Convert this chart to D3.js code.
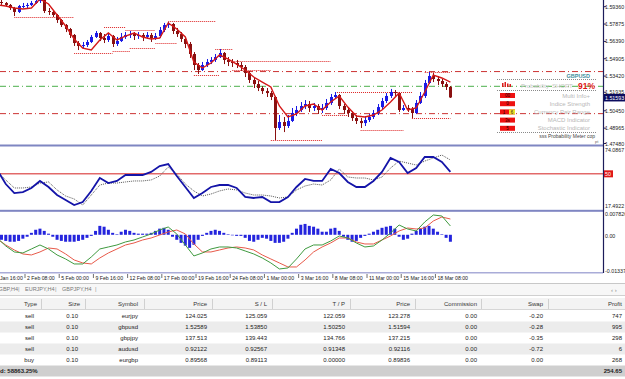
<!DOCTYPE html>
<html><head><meta charset="utf-8">
<script src="https://cdn.jsdelivr.net/npm/d3@7"></script>
<style>
body{margin:0;background:#fff;}
svg{display:block;font-family:"Liberation Sans",Arial,sans-serif;}
</style></head>
<body><svg id="c" width="625" height="379"></svg>
<script>
// ---------------- DATA ----------------
const firstOpen = 1.5976;
const closes = [1.5968,1.5951,1.5925,1.5891,1.5942,1.5942,1.5951,1.5968,1.5985,1.5993,
 1.5899,1.5891,1.5865,1.5822,1.5779,1.5745,1.5694,1.5625,1.5600,1.5608,
 1.5634,1.5677,1.5711,1.5668,1.5651,1.5685,1.5617,1.5642,1.5677,1.5694,
 1.5702,1.5685,1.5694,1.5677,1.5694,1.5668,1.5685,1.5737,1.5779,1.5788,
 1.5728,1.5702,1.5660,1.5617,1.5531,1.5437,1.5394,1.5437,1.5463,1.5480,
 1.5505,1.5540,1.5480,1.5463,1.5454,1.5437,1.5420,1.5368,1.5309,1.5274,
 1.5240,1.5214,1.5197,1.5163,1.4898,1.4949,1.4915,1.4958,1.5026,1.5052,
 1.5086,1.5103,1.5069,1.5086,1.5052,1.5069,1.5112,1.5163,1.5180,1.5086,
 1.5052,1.5026,1.4983,1.4958,1.4940,1.4966,1.4992,1.5026,1.5077,1.5129,
 1.5172,1.5206,1.5197,1.5052,1.5069,1.5060,1.5026,1.5112,1.5172,1.5283,
 1.5343,1.5317,1.5300,1.5274,1.5249,1.5159];
const highs = [1.5993,1.5976,1.5959,1.5934,1.5951,1.5968,1.5968,1.5985,1.6002,1.6019,
 1.6002,1.5925,1.5908,1.5874,1.5831,1.5788,1.5754,1.5702,1.5642,1.5634,
 1.5651,1.5694,1.5728,1.5719,1.5702,1.5711,1.5694,1.5677,1.5711,1.5719,
 1.5728,1.5719,1.5719,1.5711,1.5719,1.5711,1.5711,1.5762,1.5797,1.5805,
 1.5797,1.5754,1.5719,1.5677,1.5634,1.5548,1.5454,1.5463,1.5488,1.5505,
 1.5531,1.5574,1.5548,1.5505,1.5488,1.5480,1.5463,1.5437,1.5386,1.5326,
 1.5300,1.5257,1.5240,1.5214,1.5172,1.5009,1.4992,1.5009,1.5069,1.5086,
 1.5120,1.5137,1.5129,1.5112,1.5103,1.5103,1.5146,1.5189,1.5206,1.5189,
 1.5103,1.5069,1.5043,1.5009,1.4983,1.5000,1.5018,1.5052,1.5103,1.5155,
 1.5197,1.5232,1.5223,1.5206,1.5095,1.5095,1.5077,1.5137,1.5206,1.5309,
 1.5377,1.5368,1.5343,1.5317,1.5291,1.5257];
const lows = [1.5951,1.5934,1.5908,1.5856,1.5882,1.5925,1.5925,1.5942,1.5959,1.5968,
 1.5882,1.5865,1.5848,1.5797,1.5762,1.5719,1.5668,1.5600,1.5565,1.5574,
 1.5591,1.5625,1.5668,1.5642,1.5625,1.5634,1.5591,1.5600,1.5634,1.5660,
 1.5668,1.5651,1.5660,1.5642,1.5660,1.5634,1.5651,1.5668,1.5719,1.5754,
 1.5702,1.5677,1.5634,1.5582,1.5497,1.5394,1.5360,1.5386,1.5420,1.5445,
 1.5463,1.5497,1.5445,1.5428,1.5420,1.5411,1.5386,1.5334,1.5283,1.5240,
 1.5214,1.5189,1.5163,1.5137,1.4795,1.4881,1.4863,1.4898,1.4949,1.5000,
 1.5035,1.5060,1.5035,1.5043,1.5018,1.5026,1.5052,1.5095,1.5146,1.5060,
 1.5018,1.4992,1.4958,1.4932,1.4898,1.4915,1.4949,1.4975,1.5009,1.5060,
 1.5112,1.5155,1.5172,1.5035,1.5043,1.5035,1.4983,1.5018,1.5103,1.5155,
 1.5274,1.5291,1.5266,1.5249,1.5223,1.5155];
// smoothed trend line, one point every other bar (bar -1,1,3,...,105)
const trendLine = [1.5951,1.5942,1.5925,1.5916,1.5925,1.6002,1.5959,1.5865,1.5771,1.5660,
 1.5582,1.5565,1.5651,1.5711,1.5651,1.5685,1.5711,1.5677,1.5660,1.5668,
 1.5797,1.5745,1.5677,1.5463,1.5411,1.5454,1.5523,1.5488,1.5445,1.5394,
 1.5334,1.5291,1.5249,1.5086,1.4992,1.5018,1.5086,1.5103,1.5052,1.5120,
 1.5172,1.5077,1.5000,1.4992,1.5009,1.5052,1.5120,1.5197,1.5052,1.5069,
 1.5206,1.5351,1.5326,1.5291];
const stochMain = [53.9,39.7,30.6,31.6,35.7,42.8,36.7,28.6,23.6,18.5,
 21.5,32.7,45.8,40.7,42.8,48.8,48.8,48.8,51.9,57.9,
 59.9,47.8,36.7,25.6,30.6,36.7,38.7,38.7,35.7,26.6,
 25.6,26.6,21.5,21.5,26.6,36.7,44.8,42.8,42.8,54.9,
 50.8,41.8,36.7,36.7,42.8,51.9,66.0,62.0,50.8,55.9,
 67.0,67.0,62.0,51.9];
const stochSignal = [51.9,43.8,35.7,35.7,36.7,40.7,41.8,33.7,27.6,24.6,
 18.5,28.6,38.7,40.7,40.7,41.8,42.8,42.8,43.8,47.8,
 56.9,49.8,39.7,32.7,27.6,29.6,32.7,34.7,33.7,30.6,
 28.6,28.6,27.6,25.6,26.6,33.7,37.7,39.7,38.7,43.8,
 54.9,46.8,45.8,45.8,43.8,46.8,55.9,62.9,60.9,58.9,
 62.9,66.0,69.0,64.0];
const macdHist = [-0.0018,-0.0022,-0.0025,-0.0025,-0.0022,-0.0014,-0.0007,0.0007,0.0018,0.0022,
 0.0014,0.0004,-0.0007,-0.0018,-0.0022,-0.0025,-0.0025,-0.0025,-0.0022,-0.0018,
 -0.0011,-0.0004,0.0014,0.0032,0.0029,0.0018,0.0007,0.0002,0.0011,0.0018,
 0.0014,0.0007,0.0004,0.0004,0.0004,0.0007,0.0014,0.0022,0.0025,0.0018,
 -0.0007,-0.0018,-0.0029,-0.0039,-0.0047,-0.0036,-0.0018,-0.0004,0.0007,0.0014,
 0.0018,0.0014,0.0007,0.0002,-0.0002,-0.0004,-0.0004,-0.0011,-0.0022,-0.0025,
 -0.0018,-0.0011,-0.0014,-0.0022,-0.0029,-0.0029,-0.0025,-0.0014,0.0007,0.0022,
 0.0036,0.0039,0.0032,0.0029,0.0022,0.0011,0.0011,0.0022,0.0025,0.0014,
 -0.0007,-0.0018,-0.0025,-0.0022,-0.0011,-0.0004,0.0004,0.0011,0.0018,0.0025,
 0.0029,0.0032,0.0022,-0.0007,-0.0018,-0.0014,0.0004,0.0014,0.0022,0.0029,
 0.0032,0.0022,0.0011,0.0002,-0.0011,-0.0025];
const macdFast = [-0.00115,-0.00402,-0.00617,-0.00653,-0.00510,-0.00366,-0.00510,-0.00725,-0.00869,-0.01048,
 -0.01048,-0.00797,-0.00510,-0.00438,-0.00366,-0.00258,-0.00187,-0.00079,0.00029,0.00172,
 0.00280,0.00029,-0.00366,-0.00761,-0.00653,-0.00510,-0.00438,-0.00438,-0.00474,-0.00582,
 -0.00689,-0.00833,-0.01012,-0.01228,-0.01192,-0.00869,-0.00510,-0.00366,-0.00366,-0.00223,
 -0.00043,-0.00115,-0.00294,-0.00438,-0.00402,-0.00187,0.00065,0.00352,0.00208,0.00136,
 0.00460,0.00711,0.00675,0.00316];
const macdSlow = [-0.00151,-0.00366,-0.00546,-0.00689,-0.00725,-0.00617,-0.00474,-0.00510,-0.00689,-0.00905,
 -0.01012,-0.01048,-0.00833,-0.00653,-0.00510,-0.00366,-0.00294,-0.00187,-0.00115,-0.00007,
 0.00101,0.00172,0.00029,-0.00330,-0.00617,-0.00617,-0.00546,-0.00474,-0.00438,-0.00474,
 -0.00546,-0.00725,-0.00869,-0.01012,-0.01156,-0.01156,-0.00905,-0.00617,-0.00438,-0.00294,
 -0.00115,-0.00115,-0.00258,-0.00330,-0.00330,-0.00187,-0.00043,0.00136,0.00244,0.00208,
 0.00244,0.00495,0.00639,0.00567];
// support / resistance segments (price, from bar, to bar)
const levelPrices = [1.5850,1.5540,1.5762,1.5737,1.5557,1.5582,1.5625,1.5814,1.5351,1.5574,1.5471,1.5394,1.4795,1.5206,1.5009,1.4881,1.4983,1.5377];
const levelFrom   = [3,17,24,29,26,30,36,39,45,50,54,54,63,78,75,84,96,99];
const levelTo     = [17,26,29,36,30,36,41,50,51,54,77,63,75,96,81,94,105,105];
// order lines: stop loss, open price, take profit
const orderPrices = [1.53850,1.52589,1.50250];
const orderKinds  = ["sl","open","tp"];
const currentPrice = 1.51593;
const priceTicks = [1.59360,1.57875,1.56390,1.54905,1.53420,1.51935,1.50450,1.48965,1.47480];
const stochLabels = ["74.0867","17.4922"];
const stochLimits = [74.0867,17.4922];
const macdLimits = [0.007826,-0.01337];
const macdLabels = ["0.007826","0.00","-0.01337"];
const timeLabels = ["28 Jan 16:00","2 Feb 08:00","5 Feb 00:00","9 Feb 16:00","12 Feb 08:00","17 Feb 00:00","19 Feb 16:00","24 Feb 08:00","1 Mar 00:00","3 Mar 16:00","8 Mar 08:00","11 Mar 00:00","15 Mar 16:00","18 Mar 08:00"];
const tabs = ["EURGBP,H4","EURJPY,H4","GBPJPY,H4"];
const infoLabels = ["Multi Info+","Indice Strength","Currency Pair Range","MACD Indicator","Stochastic Indicator"];
const infoCodes = ["00","0","1","3s","5"];
const headers = ["Type","Size","Symbol","Price","S / L","T / P","Price","Commission","Swap","Profit"];
const types = ["sell","sell","sell","sell","buy"];
const sizes = ["0.10","0.10","0.10","0.10","0.10"];
const symbols = ["eurjpy","gbpusd","gbpjpy","audusd","eurgbp"];
const openPrices = ["124.025","1.52589","137.513","0.92122","0.89568"];
const stopLosses = ["125.059","1.53850","139.443","0.92567","0.89113"];
const takeProfits = ["122.059","1.50250","134.766","0.91348","0.00000"];
const marketPrices = ["123.278","1.51594","137.215","0.92116","0.89836"];
const commissions = ["0.00","0.00","0.00","0.00","0.00"];
const swaps = ["-0.20","-0.28","-0.35","-0.72","0.00"];
const profits = ["747","995","298","6","268"];
const totalLeft = "d: 58863.25%";
const totalProfit = "254.65";

// ---------------- DRAW ----------------
const svg = d3.select("#c");
const AX = 603;
const x = d3.scaleLinear().domain([0,105]).range([1.49,450.4]);
const yP = d3.scaleLinear().domain([1.4748,1.5936]).range([145.5,6.7]);
const yS = d3.scaleLinear().domain([17.4922,74.0867]).range([206,150]);
const yM = d3.scaleLinear().domain([-0.01337,0.007826]).range([272,213]);
const FS = 6, AFS = 5.3;

const defs = svg.append("defs");
defs.append("clipPath").attr("id","cp").append("rect").attr("x",0).attr("y",0).attr("width",AX).attr("height",145);
defs.append("clipPath").attr("id","cs").append("rect").attr("x",0).attr("y",147).attr("width",AX).attr("height",63);
defs.append("clipPath").attr("id","cm").append("rect").attr("x",0).attr("y",212).attr("width",AX).attr("height",60);

// price panel
const gP = svg.append("g").attr("clip-path","url(#cp)");
gP.selectAll(".ord").data(orderPrices).join("line")
  .attr("x1",0).attr("x2",AX).attr("y1",d=>yP(d)+0.5).attr("y2",d=>yP(d)+0.5)
  .attr("stroke",(d,i)=>orderKinds[i]==="open"?"#4cb04c":"#cc3333").attr("stroke-width",1)
  .attr("stroke-dasharray","6,3,1,3");
gP.selectAll(".lev").data(levelPrices).join("line")
  .attr("x1",(d,i)=>x(levelFrom[i])).attr("x2",(d,i)=>x(levelTo[i]))
  .attr("y1",d=>Math.round(yP(d))+0.5).attr("y2",d=>Math.round(yP(d))+0.5)
  .attr("stroke","#dd2222").attr("stroke-width",1).attr("stroke-dasharray","1,1");
const opens = closes.map((c,i)=> i===0 ? firstOpen : closes[i-1]);
const bars = closes.map((c,i)=>({i,o:opens[i],c,h:Math.max(highs[i],opens[i],c),l:Math.min(lows[i],opens[i],c)}));
const colUp = "#1a1ae6", colDn = "#8a1010";
gP.selectAll(".wick").data(bars).join("line")
  .attr("x1",d=>Math.round(x(d.i))+0.5).attr("x2",d=>Math.round(x(d.i))+0.5)
  .attr("y1",d=>yP(d.h)).attr("y2",d=>yP(d.l))
  .attr("stroke",d=>d.c>=d.o?colUp:colDn).attr("stroke-width",1);
gP.selectAll(".body").data(bars).join("rect")
  .attr("x",d=>Math.round(x(d.i))-1).attr("width",3)
  .attr("y",d=>yP(Math.max(d.o,d.c))).attr("height",d=>Math.max(1,Math.abs(yP(d.o)-yP(d.c))))
  .attr("fill",d=>d.c>=d.o?colUp:colDn);
const lineIdx = (d,k)=>x(2*k-1);
gP.append("path").datum(trendLine)
  .attr("d",d3.line().x(lineIdx).y(d=>yP(d)))
  .attr("fill","none").attr("stroke","#d41818").attr("stroke-width",1.4);

// info box
const info = svg.append("g");
info.append("text").attr("x",590).attr("y",77.5).attr("text-anchor","end").attr("font-size",5.5).attr("font-weight","bold").attr("fill","#3d8e9c").text("GBPUSD");
[79.5,90.5,132.5].forEach(yy=>info.append("line").attr("x1",497).attr("x2",596).attr("y1",yy).attr("y2",yy).attr("stroke","#8a8a8a").attr("stroke-dasharray","1,1"));
[[502,83,1.5,4],[504.5,82,1.5,5],[507,83.5,1.5,3.5],[509.5,84,1.5,3]].forEach(r=>info.append("rect").attr("x",r[0]).attr("y",r[1]).attr("width",r[2]).attr("height",r[3]).attr("fill","#dd1c1c"));
info.append("text").attr("x",521).attr("y",87.5).attr("font-size",6).attr("fill","#c4c4c4").text("Probability \u2009SHORT");
info.append("text").attr("x",595).attr("y",88.5).attr("text-anchor","end").attr("font-size",8.5).attr("font-weight","bold").attr("fill","#e01515").text("91%");
infoLabels.forEach((t,r)=>{
  const yc = 95.5 + 8.2*r;
  info.append("rect").attr("x",500).attr("y",yc-2.5).attr("width",15).attr("height",5).attr("fill","#ee1111");
  if(r===2) info.append("rect").attr("x",509).attr("y",yc-2.5).attr("width",6).attr("height",5).attr("fill","#f2e22a");
  info.append("text").attr("x",r===2?504:507.5).attr("y",yc+1.6).attr("text-anchor","middle").attr("font-size",4.5).attr("fill","#220000").text(infoCodes[r]);
  if(r===2) info.append("text").attr("x",512).attr("y",yc+1.6).attr("text-anchor","middle").attr("font-size",4.5).attr("fill","#222").text("6");
  info.append("text").attr("x",590).attr("y",yc+2).attr("text-anchor","end").attr("font-size",6).attr("fill","#b8b8b8").text(t);
});
info.append("text").attr("x",595).attr("y",138).attr("text-anchor","end").attr("font-size",5).attr("fill","#444").text("sss Probability Meter cop");
info.append("text").attr("x",595).attr("y",143).attr("font-size",4).attr("fill","#666").text("pt");

// stochastic panel
const gS = svg.append("g").attr("clip-path","url(#cs)");
gS.append("line").attr("x1",0).attr("x2",AX).attr("y1",yS(50)).attr("y2",yS(50)).attr("stroke","#d42020").attr("stroke-width",1);
gS.append("path").datum(stochSignal).attr("d",d3.line().x(lineIdx).y(d=>yS(d)))
  .attr("fill","none").attr("stroke","#555").attr("stroke-width",1).attr("stroke-dasharray","1,1");
gS.append("path").datum(stochMain).attr("d",d3.line().x(lineIdx).y(d=>yS(d)))
  .attr("fill","none").attr("stroke","#1414a8").attr("stroke-width",1.8);

// macd panel
const gM = svg.append("g").attr("clip-path","url(#cm)");
gM.selectAll(".hb").data(macdHist).join("rect")
  .attr("x",(d,i)=>x(i)-1.5).attr("width",3)
  .attr("y",d=>Math.min(yM(0),yM(d))).attr("height",d=>Math.abs(yM(d)-yM(0)))
  .attr("fill","#2424dd");
gM.append("path").datum(macdSlow).attr("d",d3.line().x(lineIdx).y(d=>yM(d)))
  .attr("fill","none").attr("stroke","#e85a4a").attr("stroke-width",1);
gM.append("path").datum(macdFast).attr("d",d3.line().x(lineIdx).y(d=>yM(d)))
  .attr("fill","none").attr("stroke","#3f9a3f").attr("stroke-width",1);

// separators
svg.append("rect").attr("x",0).attr("y",144.5).attr("width",AX).attr("height",2).attr("fill","#7f86c2");
svg.append("rect").attr("x",0).attr("y",209.8).attr("width",AX).attr("height",2).attr("fill","#7f86c2");
svg.append("rect").attr("x",0).attr("y",272).attr("width",AX).attr("height",1.5).attr("fill","#a9acd8");

// right axis
svg.append("line").attr("x1",AX+0.5).attr("x2",AX+0.5).attr("y1",0).attr("y2",273).attr("stroke","#1c1c5a").attr("stroke-width",1.2);
const axT = svg.append("g").attr("font-size",AFS).attr("fill","#222");
priceTicks.forEach(v=>{
  const yy = Math.min(yP(v),143.5) - (Math.abs(v-1.51935)<1e-6 ? 1.2 : 0);
  axT.append("line").attr("x1",AX).attr("x2",AX+3).attr("y1",yy).attr("y2",yy).attr("stroke","#1c1c5a");
  axT.append("text").attr("x",605).attr("y",yy+2).text(v.toFixed(5));
});
const cy = yP(currentPrice);
svg.append("rect").attr("x",604).attr("y",cy-3.5).attr("width",21).attr("height",7.5).attr("fill","#0b0b5e");
svg.append("text").attr("x",605).attr("y",cy+2.2).attr("font-size",AFS).attr("fill","#fff").text(currentPrice.toFixed(5));
// stoch labels
axT.append("text").attr("x",605).attr("y",yS(stochLimits[0])+2).text(stochLabels[0]);
axT.append("text").attr("x",605).attr("y",yS(stochLimits[1])+2).text(stochLabels[1]);
svg.append("rect").attr("x",604).attr("y",yS(50)-3.5).attr("width",9).attr("height",7).attr("fill","#e01818");
svg.append("text").attr("x",605).attr("y",yS(50)+2).attr("font-size",AFS).attr("fill","#fff").text("50");
// macd labels
axT.append("text").attr("x",605).attr("y",yM(macdLimits[0])+3).text(macdLabels[0]);
axT.append("text").attr("x",605).attr("y",yM(0)+3).text(macdLabels[1]);
axT.append("text").attr("x",605).attr("y",yM(macdLimits[1])+1).text(macdLabels[2]);

// time axis
const tg = svg.append("g").attr("font-size",5.2).attr("fill","#222");
timeLabels.forEach((t,k)=>{
  const tx = x(-2.5+8*k);
  tg.append("line").attr("x1",tx).attr("x2",tx).attr("y1",274).attr("y2",278).attr("stroke","#333").attr("stroke-width",0.7);
  tg.append("text").attr("x",tx+2).attr("y",280).text(t);
});

// tabs bar
svg.append("rect").attr("x",0).attr("y",283).attr("width",625).attr("height",12).attr("fill","#f7f7f7");
svg.append("line").attr("x1",0).attr("x2",625).attr("y1",283.5).attr("y2",283.5).attr("stroke","#c8c8c8");
const tabX = [-13,25,62];
tabs.forEach((t,i)=>{
  svg.append("text").attr("x",tabX[i]).attr("y",291).attr("font-size",5.5).attr("fill","#777").text(t);
  svg.append("text").attr("x",[18,55,95][i]).attr("y",291).attr("font-size",6).attr("fill","#999").text("|");
});
svg.append("text").attr("x",611).attr("y",292).attr("font-size",6).attr("fill","#888").text("\u2039  \u203a");
svg.append("line").attr("x1",0).attr("x2",625).attr("y1",295.5).attr("y2",295.5).attr("stroke","#d0d0d0");

// table
const colRight = [37,80,138,207,267,345,410,477,543,622];
const valRight = [34,78,138,207,267,345,410,477,543,622];
svg.append("rect").attr("x",0).attr("y",298).attr("width",625).attr("height",11).attr("fill","#f3f3f3");
svg.append("line").attr("x1",0).attr("x2",625).attr("y1",309.5).attr("y2",309.5).attr("stroke","#d6d6d6");
[41,85,144,212,272,350,415,481,548].forEach(sx=>svg.append("line").attr("x1",sx+0.5).attr("x2",sx+0.5).attr("y1",299).attr("y2",309).attr("stroke","#d0d0d0"));
headers.forEach((h,i)=>svg.append("text").attr("x",colRight[i]).attr("y",306).attr("text-anchor","end").attr("font-size",FS).attr("fill","#333").text(h));
const rowY0 = 316, rowH = 11;
const cols = [types,sizes,symbols,openPrices,stopLosses,takeProfits,marketPrices,commissions,swaps,profits];
types.forEach((t,r)=>{
  const yc = rowY0 + rowH*r;
  if(r%2===1) svg.append("rect").attr("x",0).attr("y",yc-rowH/2).attr("width",625).attr("height",rowH).attr("fill","#ececec");
  cols.forEach((col,c)=>svg.append("text").attr("x",valRight[c]).attr("y",yc+2.2).attr("text-anchor","end").attr("font-size",FS).attr("fill","#222").text(col[r]));
});
const ty = rowY0 + rowH*5;
svg.append("rect").attr("x",0).attr("y",ty-rowH/2).attr("width",625).attr("height",rowH).attr("fill","#cfcfcf");
svg.append("text").attr("x",0).attr("y",ty+2.2).attr("font-size",FS).attr("font-weight","bold").attr("fill","#222").text(totalLeft);
svg.append("text").attr("x",622).attr("y",ty+2.2).attr("text-anchor","end").attr("font-size",FS).attr("font-weight","bold").attr("fill","#222").text(totalProfit);
</script></body></html>
